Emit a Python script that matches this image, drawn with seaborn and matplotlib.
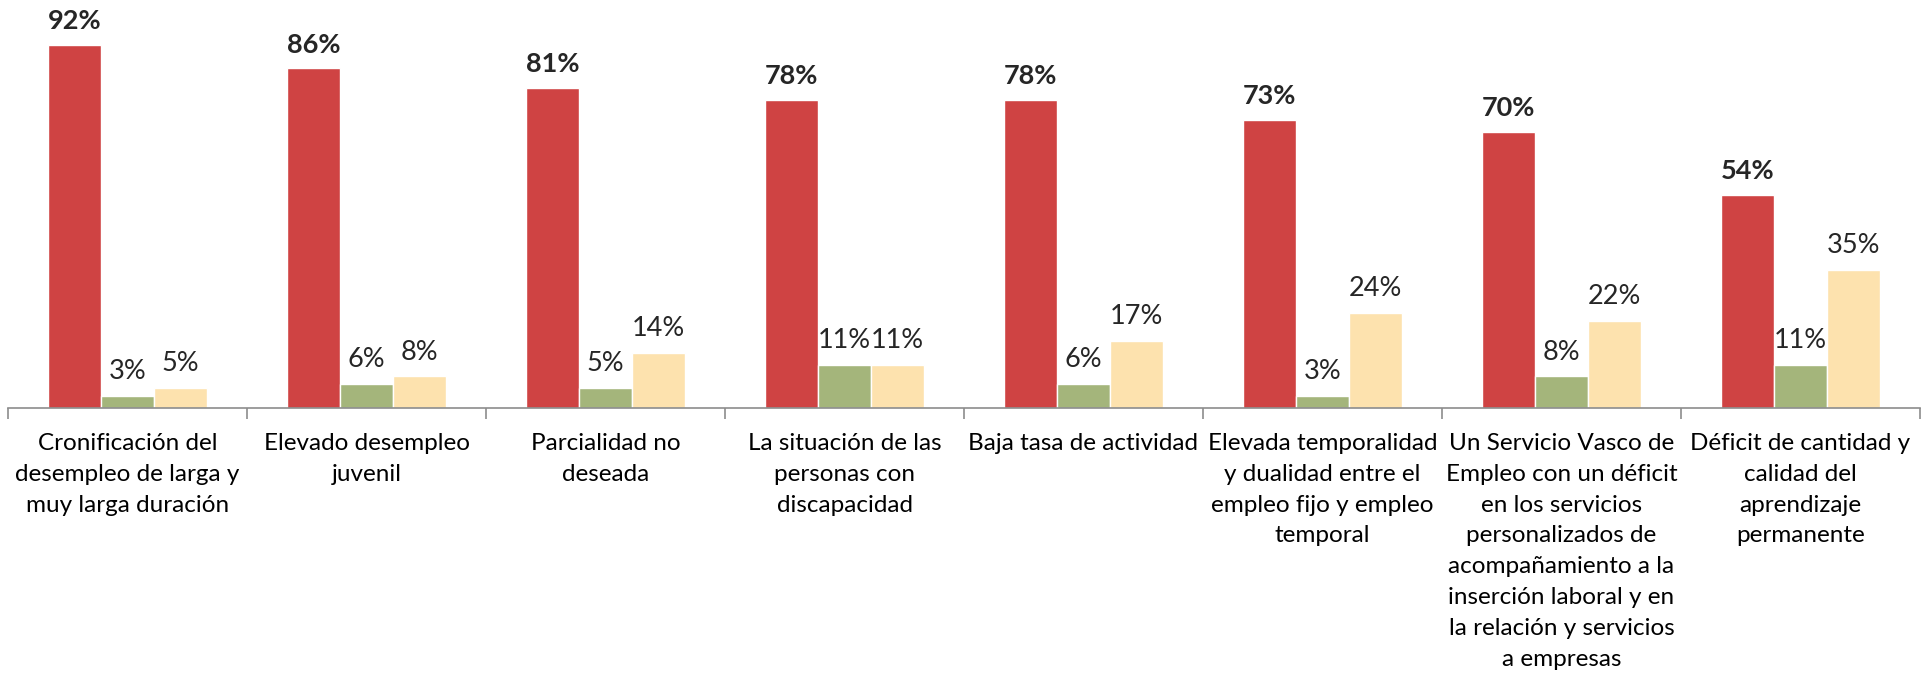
import pandas as pd
import seaborn as sns
import matplotlib.pyplot as plt
from matplotlib.ticker import FixedLocator

temas = [
    "Cronificación del\ndesempleo de larga y\nmuy larga duración",
    "Elevado desempleo\njuvenil",
    "Parcialidad no\ndeseada",
    "La situación de las\npersonas con\ndiscapacidad",
    "Baja tasa de actividad",
    "Elevada temporalidad\ny dualidad entre el\nempleo fijo y empleo\ntemporal",
    "Un Servicio Vasco de\nEmpleo con un déficit\nen los servicios\npersonalizados de\nacompañamiento a la\ninserción laboral y en\nla relación y servicios\na empresas",
    "Déficit de cantidad y\ncalidad del\naprendizaje\npermanente",
]
series = ["Sí", "No", "Ns/Nc"]
vals_si = [92, 86, 81, 78, 78, 73, 70, 54]
vals_no = [3, 6, 5, 11, 6, 3, 8, 11]
vals_ns = [5, 8, 14, 11, 17, 24, 22, 35]
colores = ["#CF4343", "#A4B57B", "#FDE2AE"]

rows = []
for s, vals in zip(series, [vals_si, vals_no, vals_ns]):
    for t, v in zip(temas, vals):
        rows.append({"tema": t, "serie": s, "valor": v})
df = pd.DataFrame(rows)

sns.set_style("white")
plt.rcParams["font.family"] = ["Lato", "DejaVu Sans"]

fig = plt.figure(figsize=(19.3, 6.78), dpi=100)
ax = fig.add_axes([8 / 1930, 270 / 678, 1912 / 1930, 408 / 678])

sns.barplot(data=df, x="tema", y="valor", hue="serie", palette=colores,
            width=0.665, gap=0, saturation=1, legend=False, ax=ax)

for i, cont in enumerate(ax.containers):
    ax.bar_label(cont, labels=[f"{int(v)}%" for v in cont.datavalues],
                 padding=8.5, fontsize=19.5,
                 fontweight="bold" if i == 0 else "normal")

ax.set_ylim(0, 103.3)
ax.set_xlim(-0.5, len(temas) - 0.5)
ax.set_xlabel("")
ax.set_ylabel("")
ax.set_yticks([])
for side in ["top", "right", "left"]:
    ax.spines[side].set_visible(False)
ax.spines["bottom"].set_color("#8C8C8C")
ax.spines["bottom"].set_linewidth(1.2)

# category labels: one text per line so the line height stays fixed (~31 px)
ax.set_xticks(range(len(temas)))
ax.set_xticklabels([])
ax.tick_params(axis="x", which="major", length=0)
for i, t in enumerate(temas):
    for k, linea in enumerate(t.split("\n")):
        ax.annotate(linea, xy=(i, 0), xycoords=("data", "axes fraction"),
                    xytext=(0, -30.2 - k * 22.2), textcoords="offset points",
                    ha="center", va="baseline", fontsize=17.5, color="black")

ax.xaxis.set_minor_locator(FixedLocator([i - 0.5 for i in range(len(temas) + 1)]))
ax.tick_params(axis="x", which="minor", length=8, width=1.2, color="#8C8C8C",
               bottom=True)

fig.savefig("out.png", dpi=100)
